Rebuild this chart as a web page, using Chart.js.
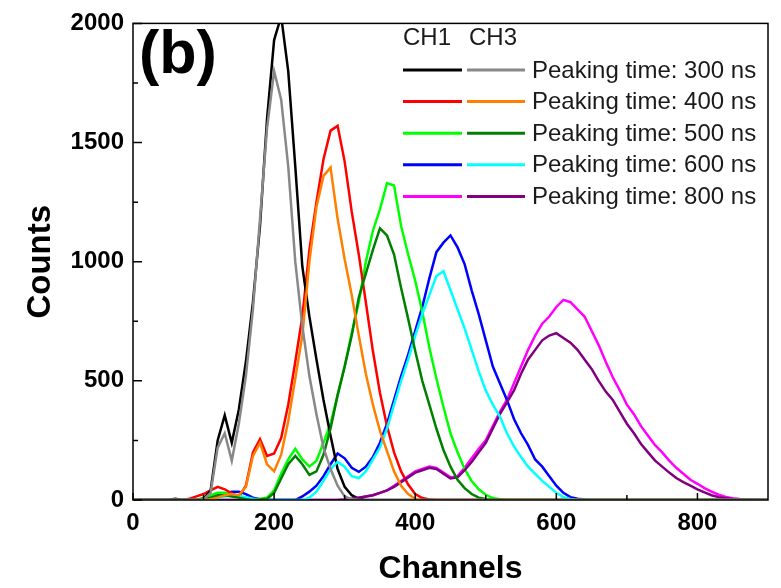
<!DOCTYPE html>
<html><head><meta charset="utf-8">
<script src="https://cdn.jsdelivr.net/npm/chart.js@4.4.1/dist/chart.umd.min.js"></script>
<style>html,body{margin:0;padding:0;background:#fff;}#wrap{width:781px;height:588px;position:relative;}</style>
</head><body><div id="wrap"><canvas id="c"></canvas></div>
<script>
const channels = [0,10,20,30,40,50,60,70,80,90,100,110,120,130,140,150,160,170,180,190,200,210,220,230,240,250,260,270,280,290,300,310,320,330,340,350,360,370,380,390,400,410,420,430,440,450,460,470,480,490,500,510,520,530,540,550,560,570,580,590,600,610,620,630,640,650,660,670,680,690,700,710,720,730,740,750,760,770,780,790,800,810,820,830,840,850,860,870,880,890,900];

const ch1_300 = [0,0,0,0,0,0,5,0,0,0, 5,40,250,355,240,380,580,830,1150,1600, 1930,2030,1800,1400,980,770,590,420,270,130, 55,20,5,0,0,0,0,0,0,0, 0,0,0,0,0,0,0,0,0,0, 0,0,0,0,0,0,0,0,0,0, 0,0,0,0,0,0,0,0,0,0, 0,0,0,0,0,0,0,0,0,0, 0,0,0,0,0,0,0,0,0,0, 0];
const ch3_300 = [0,0,0,0,0,0,0,0,0,0, 3,30,220,280,165,320,520,800,1180,1560, 1800,1680,1400,1000,730,520,360,220,130,60, 15,3,0,0,0,0,0,0,0,0, 0,0,0,0,0,0,0,0,0,0, 0,0,0,0,0,0,0,0,0,0, 0,0,0,0,0,0,0,0,0,0, 0,0,0,0,0,0,0,0,0,0, 0,0,0,0,0,0,0,0,0,0, 0];
const ch1_400 = [0,0,0,0,0,0,0,0,5,15, 25,40,55,45,28,12,60,200,255,185, 195,260,400,580,770,1050,1250,1430,1550,1570, 1420,1210,1030,830,625,450,310,200,120,65, 25,8,2,0,0,0,0,0,0,0, 0,0,0,0,0,0,0,0,0,0, 0,0,0,0,0,0,0,0,0,0, 0,0,0,0,0,0,0,0,0,0, 0,0,0,0,0,0,0,0,0,0, 0];
const ch3_400 = [0,0,0,0,0,0,0,0,0,0, 0,3,10,20,25,20,55,185,240,150, 120,190,330,510,690,1000,1230,1360,1395,1180, 1010,860,690,530,400,290,205,120,60,25, 5,0,0,0,0,0,0,0,0,0, 0,0,0,0,0,0,0,0,0,0, 0,0,0,0,0,0,0,0,0,0, 0,0,0,0,0,0,0,0,0,0, 0,0,0,0,0,0,0,0,0,0, 0];
const ch1_500 = [0,0,0,0,0,0,0,0,0,0, 10,20,30,30,25,15,5,3,5,10, 40,110,170,215,170,140,165,240,320,440, 560,700,830,1000,1130,1220,1330,1320,1150,1030, 920,790,640,510,390,280,200,130,80,45, 22,8,3,0,0,0,0,0,0,0, 0,0,0,0,0,0,0,0,0,0, 0,0,0,0,0,0,0,0,0,0, 0,0,0,0,0,0,0,0,0,0, 0];
const ch3_500 = [0,0,0,0,0,0,0,0,0,0, 5,10,20,20,15,10,3,0,2,5, 30,90,150,185,150,105,120,190,300,440, 560,690,850,950,1050,1140,1110,1030,890,760, 625,500,400,300,210,140,85,50,25,10, 4,0,0,0,0,0,0,0,0,0, 0,0,0,0,0,0,0,0,0,0, 0,0,0,0,0,0,0,0,0,0, 0,0,0,0,0,0,0,0,0,0, 0];
const ch1_600 = [0,0,0,0,0,0,0,0,0,0, 3,5,15,25,35,35,25,10,3,0, 0,0,0,0,15,35,60,100,150,195, 175,135,118,140,180,240,320,420,520,610, 710,810,930,1040,1080,1110,1060,990,880,780, 670,560,490,420,340,280,230,170,140,100, 60,30,12,5,2,0,0,0,0,0, 0,0,0,0,0,0,0,0,0,0, 0,0,0,0,0,0,0,0,0,0, 0];
const ch3_600 = [0,0,0,0,0,0,0,0,0,0, 0,3,8,15,20,18,12,5,0,0, 0,0,0,0,0,10,35,80,130,160, 140,100,92,120,170,220,300,400,500,590, 690,780,860,940,960,880,800,720,630,540, 460,400,350,280,225,180,140,110,80,55, 30,12,4,0,0,0,0,0,0,0, 0,0,0,0,0,0,0,0,0,0, 0,0,0,0,0,0,0,0,0,0, 0];
const ch1_800 = [0,0,0,0,0,0,0,0,0,0, 0,0,0,0,0,0,0,0,0,0, 0,0,0,0,0,0,0,0,0,0, 2,5,10,15,20,30,40,60,80,100, 120,130,140,135,115,95,100,135,175,215, 250,310,370,420,490,560,630,690,740,770, 810,840,830,800,770,710,650,580,515,460, 400,360,310,270,230,200,165,135,110,85, 68,50,35,22,13,7,4,2,1,0, 0];
const ch3_800 = [0,0,0,0,0,0,0,0,0,0, 0,0,0,0,0,0,0,0,0,0, 0,0,0,0,0,0,0,0,0,0, 2,5,10,15,20,30,40,55,75,95, 115,125,135,130,110,90,95,125,160,200, 240,300,360,410,460,530,590,630,670,690, 700,680,660,630,590,550,500,455,420,370, 320,280,235,200,165,140,115,92,75,60, 45,32,20,12,7,4,2,1,0,0, 0];

const seriesLabels = ['Peaking time: 300 ns','Peaking time: 400 ns','Peaking time: 500 ns','Peaking time: 600 ns','Peaking time: 800 ns'];
const channelLabels = ['CH1','CH3'];
const xTicks = [0,200,400,600,800];
const xMinorTicks = [100,300,500,700];
const yTicks = [0,500,1000,1500,2000];
const yMinorTicks = [250,750,1250,1750];

const ch1Series = [ch1_300, ch1_400, ch1_500, ch1_600, ch1_800];
const ch3Series = [ch3_300, ch3_400, ch3_500, ch3_600, ch3_800];
const ch1Colors = ['#000000','#ff0000','#00ff00','#0000ff','#ff00ff'];
const ch3Colors = ['#888888','#ff8000','#008000','#00ffff','#800080'];

const toPts = arr => arr.map((v,i)=>({x:channels[i], y:v}));
const datasets = [];
for (let i=0;i<seriesLabels.length;i++){
  datasets.push({label:'CH1 '+seriesLabels[i], data:toPts(ch1Series[i]), borderColor:ch1Colors[i], backgroundColor:ch1Colors[i], borderWidth:2.5, pointRadius:0, tension:0, order:2});
  datasets.push({label:'CH3 '+seriesLabels[i], data:toPts(ch3Series[i]), borderColor:ch3Colors[i], backgroundColor:ch3Colors[i], borderWidth:2.5, pointRadius:0, tension:0, order:1});
}

const FONT = "'Liberation Sans', Arial, sans-serif";

const decor = {
  id:'decor',
  afterDatasetsDraw(chart){
    const {ctx, chartArea:a, scales:{x,y}} = chart;
    ctx.save();
    ctx.strokeStyle='#000'; ctx.lineWidth=1.5;
    ctx.strokeRect(a.left, a.top, a.right-a.left, a.bottom-a.top);
    ctx.beginPath();
    yTicks.forEach(v=>{const p=y.getPixelForValue(v); ctx.moveTo(a.left,p); ctx.lineTo(a.left+9,p);});
    yMinorTicks.forEach(v=>{const p=y.getPixelForValue(v); ctx.moveTo(a.left,p); ctx.lineTo(a.left+5,p);});
    xTicks.forEach(v=>{const p=x.getPixelForValue(v); ctx.moveTo(p,a.bottom); ctx.lineTo(p,a.bottom-7);});
    xMinorTicks.forEach(v=>{const p=x.getPixelForValue(v); ctx.moveTo(p,a.bottom); ctx.lineTo(p,a.bottom-5);});
    ctx.stroke();

    // panel label
    ctx.fillStyle='#000';
    ctx.font="bold 61px "+FONT;
    ctx.textBaseline='middle'; ctx.textAlign='left';
    ctx.fillText('(b)', 139, 56);

    // legend
    ctx.font="24px "+FONT;
    ctx.fillStyle='#1a1a1a';
    ctx.fillText(channelLabels[0], 403, 38);
    ctx.fillText(channelLabels[1], 469, 38);
    const rowY0 = 70, rowDy = 31.6;
    for (let i=0;i<seriesLabels.length;i++){
      const yy = rowY0 + i*rowDy;
      ctx.lineWidth=3;
      ctx.strokeStyle = chart.data.datasets[2*i].borderColor;
      ctx.beginPath(); ctx.moveTo(403,yy); ctx.lineTo(462,yy); ctx.stroke();
      ctx.strokeStyle = chart.data.datasets[2*i+1].borderColor;
      ctx.beginPath(); ctx.moveTo(467,yy); ctx.lineTo(525,yy); ctx.stroke();
      ctx.fillStyle='#1a1a1a';
      ctx.fillText(seriesLabels[i], 532, yy+1);
    }
    ctx.restore();
  }
};

new Chart(document.getElementById('c'), {
  type:'line',
  data:{datasets},
  options:{
    responsive:true, maintainAspectRatio:false, animation:false, devicePixelRatio:1,
    layout:{padding:{left:0,right:13,top:19,bottom:0}},
    plugins:{legend:{display:false}, tooltip:{enabled:false}},
    scales:{
      x:{type:'linear', min:0, max:900,
        afterBuildTicks: s=>{ s.ticks = xTicks.map(v=>({value:v})); },
        afterFit: s=>{ s.height = 88; },
        grid:{display:false, drawTicks:false}, border:{display:false},
        ticks:{color:'#000', padding:9, maxRotation:0, autoSkip:false, callback:v=>String(v), font:{family:FONT, size:24, weight:'bold'}},
        title:{display:true, text:'Channels', color:'#000', padding:{top:0,bottom:0}, font:{family:FONT, size:32, weight:'bold'}}
      },
      y:{type:'linear', min:0, max:2000,
        afterBuildTicks: s=>{ s.ticks = yTicks.map(v=>({value:v})); },
        afterFit: s=>{ s.width = 133; },
        grid:{display:false, drawTicks:false}, border:{display:false},
        ticks:{color:'#000', padding:9, callback:v=>String(v), font:{family:FONT, size:24, weight:'bold'}},
        title:{display:true, text:'Counts', color:'#000', padding:{top:21,bottom:0}, font:{family:FONT, size:33, weight:'bold'}}
      }
    }
  },
  plugins:[decor]
});
</script></body></html>
